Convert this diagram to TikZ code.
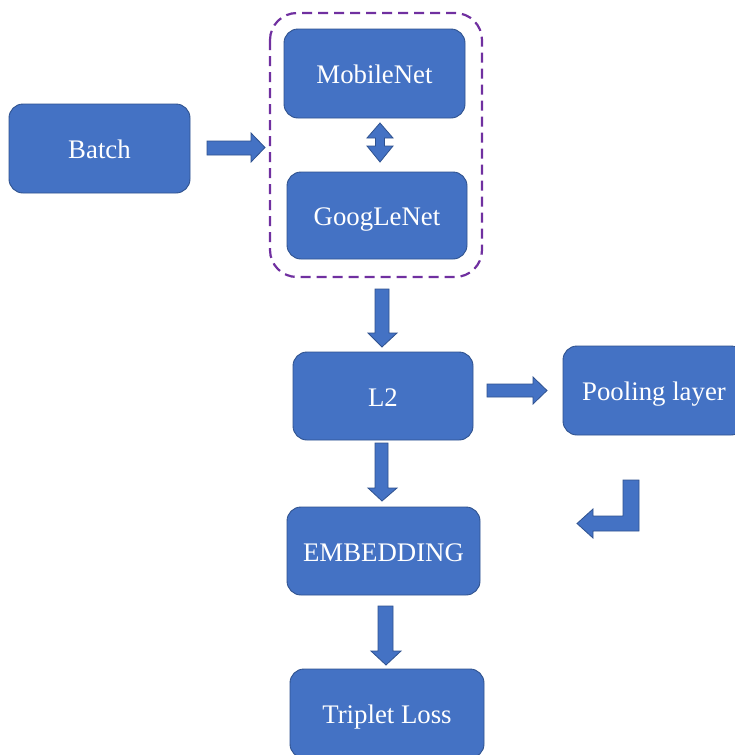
\documentclass[tikz,border=0pt]{standalone}
\usepackage{fontspec}
\setmainfont{Liberation Serif}
\definecolor{boxfill}{HTML}{4472C4}
\definecolor{boxline}{HTML}{2F528F}
\definecolor{dashpurple}{HTML}{7030A0}
\tikzset{
  blockbox/.style={draw=boxline, fill=boxfill, line width=0.9pt, rounded corners=14pt,
    inner sep=0pt, text=white, font=\fontsize{26.8}{30}\selectfont,
    text height=20.5pt, text depth=0pt},
  blockarrow/.style={draw=boxline, fill=boxfill, line width=0.8pt, line join=miter},
  groupbox/.style={draw=dashpurple, line width=2.2pt, dash pattern=on 10pt off 6pt, rounded corners=27pt}
}
\begin{document}
\begin{tikzpicture}[x=1pt,y=-1pt]
\useasboundingbox (0,0) rectangle (735,755);
\fill[white] (0,0) rectangle (735,755);
% nodes
\node[blockbox, minimum width=181pt, minimum height=89pt] (batch) at (99.5,148.5) {Batch};
\node[blockbox, minimum width=181pt, minimum height=89pt] (mobile) at (374.5,73.5) {MobileNet};
\node[blockbox, minimum width=180pt, minimum height=87pt] (google) at (377,215.5) {GoogLeNet};
\node[blockbox, minimum width=180pt, minimum height=88pt] (l2) at (383,396) {L2};
\node[blockbox, minimum width=182pt, minimum height=89pt] (pool) at (654,390.5) {Pooling layer};
\node[blockbox, minimum width=193pt, minimum height=88pt] (emb) at (383.5,551) {EMBEDDING};
\node[blockbox, minimum width=194pt, minimum height=89pt] (trip) at (387,713.5) {Triplet Loss};
% dashed group
\draw[groupbox] (270,13) rectangle (482,277);
% Batch -> group
\path[blockarrow] (207,141) -- (251,141) -- (251,133) -- (265,147.5) -- (251,162) -- (251,155) -- (207,155) -- cycle;
% MobileNet <-> GoogLeNet
\path[blockarrow] (380,123) -- (393,138) -- (384.5,138) -- (384.5,146) -- (393,146) -- (380,162)
  -- (367,146) -- (375.5,146) -- (375.5,138) -- (367,138) -- cycle;
% group -> L2
\path[blockarrow] (375,289) -- (389,289) -- (389,333) -- (397,333) -- (382,347) -- (368,333) -- (375,333) -- cycle;
% L2 -> Pooling
\path[blockarrow] (487,384) -- (533,384) -- (533,377) -- (547,390.5) -- (533,404) -- (533,397) -- (487,397) -- cycle;
% L2 -> EMBEDDING
\path[blockarrow] (375,443) -- (388,443) -- (388,488) -- (397,488) -- (382,501) -- (368,488) -- (375,488) -- cycle;
% Pooling -> EMBEDDING (bent)
\path[blockarrow] (639,480) -- (639,531) -- (593,531) -- (593,538) -- (577,523.5) -- (593,509) -- (593,516) -- (623,516) -- (623,480) -- cycle;
% EMBEDDING -> Triplet Loss
\path[blockarrow] (378,606) -- (393,606) -- (393,651) -- (401,651) -- (386,665) -- (371,651) -- (378,651) -- cycle;
\end{tikzpicture}
\end{document}
